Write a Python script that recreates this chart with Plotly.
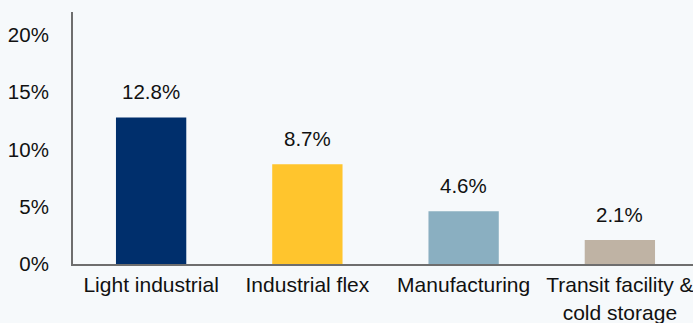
import plotly.graph_objects as go

categories = ['Light industrial', 'Industrial flex', 'Manufacturing', 'Transit facility &<br>cold storage']
values = [12.8, 8.7, 4.6, 2.1]
value_labels = ['12.8%', '8.7%', '4.6%', '2.1%']
bar_colors = ['#002F6C', '#FFC52D', '#8AAFC1', '#BFB3A4']
y_ticks = [0, 5, 10, 15, 20]
y_tick_labels = ['0%', '5%', '10%', '15%', '20%']

font_family = 'Liberation Sans, Arial, sans-serif'
bg = '#F6F9FB'

fig = go.Figure()

fig.add_trace(go.Bar(x=categories,
                     y=values,
                     width=0.45,
                     marker=dict(color=bar_colors, line_width=0),
                     hoverinfo='none'
                     ))

for cat, val, label in zip(categories, values, value_labels):
    fig.add_annotation(x=cat, y=val, text=label,
                       showarrow=False, yanchor='bottom', yshift=12,
                       font=dict(family=font_family, size=20.5, color='#111111'))

fig.update_layout(width=693,
                  height=323,
                  margin=dict(l=73, r=0, t=12, b=59),
                  paper_bgcolor=bg,
                  plot_bgcolor=bg,
                  showlegend=False,
                  font=dict(family=font_family, size=20, color='#111111')
                  )

fig.update_xaxes(range=[-0.5, 3.468],
                 automargin=False,
                 showline=True, linecolor='#6E6E6E', linewidth=2,
                 showgrid=False, ticks='', zeroline=False,
                 ticklabelstandoff=1,
                 tickfont=dict(size=21))

fig.update_yaxes(range=[0, 22],
                 automargin=False,
                 tickvals=y_ticks, ticktext=y_tick_labels,
                 showline=True, linecolor='#6E6E6E', linewidth=2,
                 showgrid=False, ticks='', zeroline=False,
                 ticklabelstandoff=18,
                 tickfont=dict(size=20.5))

# drop the browser's default body margin so the figure sits at the page corner
page_js = ("document.body.style.margin='0';"
           "document.body.style.overflow='hidden';"
           "document.body.style.background='%s';" % bg)

fig.write_html("out.html", post_script=page_js,
               config=dict(displayModeBar=False))
